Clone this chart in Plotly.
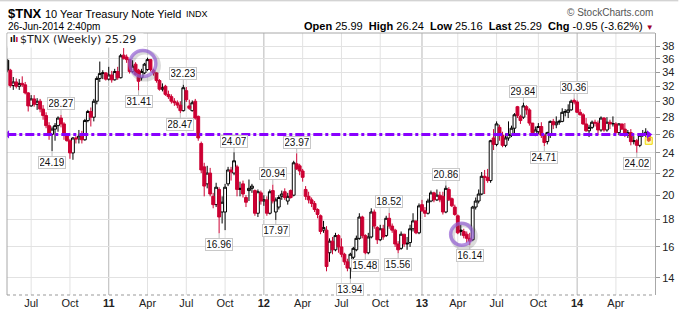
import math
import pandas as pd
import plotly.graph_objects as go

# ---------------- data (weekly $TNX) ----------------
opens = [35.8, 34.3, 32.1, 32.6, 32.0, 32.4, 32.2, 31.1, 29.4, 30.3,
         29.6, 30.0, 29.0, 28.2, 27.0, 26.0, 26.6, 27.0, 27.9, 27.2,
         25.9, 25.3, 24.0, 25.6, 25.5, 25.8, 25.4, 27.6, 28.7, 28.0,
         30.0, 33.1, 33.8, 33.9, 33.0, 33.6, 32.9, 34.1, 33.2, 36.6,
         36.3, 35.9, 34.1, 35.2, 34.3, 33.2, 33.9, 34.4, 35.9, 34.3,
         33.9, 32.8, 31.6, 32.0, 30.9, 30.6, 30.0, 29.8, 29.5, 28.8,
         31.4, 29.4, 28.8, 30.0, 28.1, 25.0, 22.6, 21.0, 22.0, 19.9,
         19.2, 20.5, 18.6, 18.6, 21.0, 22.3, 22.0, 22.6, 20.5, 21.0,
         19.8, 20.4, 20.6, 20.4, 18.5, 20.2, 19.5, 19.6, 18.5, 20.4,
         18.6, 19.0, 19.9, 20.3, 19.5, 20.4, 20.0, 22.9, 22.7, 22.2,
         20.5, 19.9, 19.6, 19.3, 18.8, 18.3, 17.2, 17.2, 15.6, 16.4,
         15.8, 16.8, 16.0, 15.5, 15.0, 14.6, 15.3, 15.8, 16.6, 18.2,
         16.8, 15.6, 16.7, 18.6, 17.4, 16.5, 17.3, 16.8, 18.1, 17.5,
         17.2, 16.2, 15.9, 16.9, 16.2, 16.3, 17.3, 17.9, 17.0, 19.2,
         18.7, 18.5, 19.5, 20.2, 19.6, 20.0, 19.9, 18.6, 20.5, 19.7,
         19.0, 18.3, 17.1, 17.1, 16.9, 16.6, 16.5, 19.0, 19.5, 20.1,
         21.7, 21.6, 21.3, 25.6, 24.9, 26.8, 25.9, 24.8, 25.6, 25.9,
         26.7, 29.3, 28.1, 28.0, 29.3, 28.9, 27.3, 26.1, 26.3, 26.9,
         25.9, 25.2, 26.0, 27.5, 27.1, 27.4, 27.5, 28.6, 28.6, 28.9,
         30.1, 29.9, 28.6, 28.3, 27.2, 26.4, 26.8, 27.4, 27.3, 26.5,
         27.9, 26.5, 27.4, 27.2, 27.2, 26.2, 27.2, 26.6, 25.9, 26.2,
         25.2, 25.3, 24.8, 25.9, 26.0, 25.99]
highs = [36.0, 34.5, 33.3, 33.1, 33.0, 33.4, 32.6, 31.2, 30.8, 30.8,
         30.4, 30.3, 29.5, 28.6, 27.4, 26.9, 27.3, 28.1, 28.27, 27.4,
         26.0, 25.5, 25.7, 25.8, 26.5, 26.4, 27.8, 28.9, 29.2, 30.3,
         33.4, 35.6, 34.3, 34.0, 34.8, 34.2, 34.5, 34.8, 36.8, 37.73,
         36.7, 36.0, 35.8, 35.5, 34.5, 34.5, 35.4, 36.2, 36.0, 34.5,
         34.0, 33.0, 32.4, 32.2, 31.4, 30.9, 30.4, 30.1, 30.0, 32.23,
         31.9, 30.2, 30.1, 30.3, 28.2, 25.2, 23.0, 22.7, 22.5, 20.2,
         21.1, 20.7, 19.9, 21.0, 22.6, 22.6, 24.07, 22.8, 21.2, 21.3,
         20.0, 21.4, 21.0, 20.5, 20.5, 20.4, 20.0, 19.9, 20.5, 20.94,
         19.8, 20.0, 20.4, 20.6, 20.2, 20.5, 23.2, 23.97, 22.9, 22.4,
         20.8, 20.3, 19.8, 19.5, 18.9, 18.4, 17.9, 17.5, 16.6, 16.7,
         17.0, 16.9, 16.6, 15.6, 15.2, 15.6, 16.0, 16.8, 18.5, 18.3,
         16.9, 17.0, 18.9, 18.8, 17.5, 17.6, 17.6, 18.3, 18.52, 17.7,
         17.3, 16.4, 17.1, 16.9, 16.7, 17.6, 18.5, 17.9, 19.3, 19.6,
         19.0, 19.7, 20.4, 20.3, 20.5, 20.3, 20.3, 20.86, 20.7, 19.8,
         19.2, 18.4, 17.6, 17.3, 17.1, 17.0, 19.1, 19.8, 20.5, 22.1,
         22.3, 22.4, 25.4, 26.6, 27.5, 27.1, 26.3, 26.1, 27.5, 27.0,
         28.5, 29.4, 28.3, 29.84, 29.5, 29.1, 27.3, 26.9, 27.3, 27.4,
         26.0, 26.3, 27.6, 27.8, 28.1, 27.7, 29.1, 29.0, 29.6, 30.2,
         30.36, 30.1, 29.0, 28.5, 27.9, 27.1, 27.6, 27.7, 27.6, 28.1,
         28.0, 28.0, 27.7, 28.1, 27.4, 27.3, 27.2, 27.3, 26.5, 26.6,
         25.8, 25.5, 26.1, 26.5, 26.7, 26.24]
lows = [34.0, 31.8, 31.5, 31.7, 31.5, 31.9, 30.9, 28.7, 29.3, 29.3,
        28.9, 28.6, 27.7, 26.7, 25.4, 24.19, 25.3, 26.3, 26.8, 25.4,
        25.2, 23.4, 23.3, 25.0, 25.0, 25.0, 25.3, 27.4, 26.9, 27.5,
        29.6, 32.6, 33.0, 32.8, 32.8, 32.5, 32.8, 32.9, 33.1, 35.9,
        35.4, 33.8, 33.9, 33.5, 31.41, 32.8, 33.7, 34.2, 34.1, 33.5,
        32.5, 31.4, 31.3, 30.7, 30.3, 29.7, 29.4, 29.1, 28.47, 28.7,
        29.9, 28.9, 28.7, 27.7, 25.3, 22.0, 19.9, 20.6, 19.9, 18.9,
        19.0, 16.96, 17.7, 17.2, 20.8, 21.3, 21.8, 19.9, 19.9, 19.8,
        19.0, 19.5, 20.2, 18.3, 18.2, 19.2, 19.1, 18.3, 18.4, 19.3,
        17.97, 18.8, 19.6, 19.6, 19.2, 19.7, 19.9, 22.3, 21.8, 21.2,
        19.6, 19.3, 19.0, 18.6, 18.1, 16.9, 17.0, 14.4, 15.0, 15.5,
        15.7, 15.6, 15.3, 14.8, 14.4, 13.94, 14.9, 15.7, 16.5, 16.6,
        15.48, 15.5, 16.6, 17.3, 16.2, 16.4, 16.5, 16.7, 17.3, 17.0,
        16.0, 15.56, 15.8, 16.0, 15.8, 16.0, 17.1, 16.9, 16.9, 18.6,
        18.2, 18.4, 19.4, 19.4, 19.5, 19.4, 18.4, 18.5, 19.5, 19.0,
        18.3, 16.9, 16.8, 16.6, 16.3, 16.14, 16.4, 18.8, 19.3, 20.0,
        20.1, 21.1, 21.1, 24.3, 24.7, 25.3, 24.6, 24.6, 25.3, 25.7,
        26.0, 27.9, 27.2, 27.8, 28.3, 27.0, 25.9, 25.8, 26.0, 25.6,
        24.71, 24.9, 25.6, 26.6, 26.7, 27.1, 27.4, 28.1, 27.9, 28.8,
        29.6, 28.5, 28.2, 27.1, 26.3, 25.7, 26.6, 26.9, 25.9, 26.3,
        26.3, 26.3, 26.6, 26.9, 26.1, 25.9, 26.5, 25.7, 25.6, 24.8,
        24.9, 24.02, 24.6, 25.7, 25.7, 25.16]
closes = [34.3, 32.1, 32.6, 32.0, 32.4, 32.2, 31.1, 29.4, 30.3, 29.6,
          30.0, 29.0, 28.2, 27.0, 26.0, 26.6, 27.0, 27.9, 27.2, 25.9,
          25.3, 24.0, 25.6, 25.5, 25.8, 25.4, 27.6, 28.7, 28.0, 30.0,
          33.1, 33.8, 33.9, 33.0, 33.6, 32.9, 34.1, 33.2, 36.5, 36.1,
          35.9, 34.1, 34.9, 33.7, 32.7, 34.1, 35.2, 35.9, 34.4, 33.9,
          32.8, 31.6, 31.8, 30.9, 30.6, 30.0, 29.8, 29.5, 28.8, 31.8,
          30.2, 29.1, 29.8, 27.9, 25.6, 22.3, 20.8, 22.0, 20.1, 19.2,
          20.7, 18.2, 19.4, 20.7, 22.3, 22.1, 23.2, 20.5, 20.6, 20.1,
          19.4, 20.6, 20.8, 18.5, 20.3, 19.5, 19.6, 18.5, 20.3, 19.5,
          19.6, 19.8, 20.1, 19.8, 19.9, 19.8, 23.0, 22.4, 22.2, 21.6,
          19.9, 19.6, 19.3, 18.8, 18.4, 17.1, 17.4, 14.7, 16.4, 15.8,
          16.8, 16.0, 15.5, 15.0, 14.6, 15.5, 15.9, 16.6, 18.2, 16.8,
          15.6, 16.7, 18.6, 17.5, 16.5, 17.3, 16.7, 18.1, 17.5, 17.2,
          16.2, 15.8, 16.9, 16.2, 16.25, 17.3, 17.9, 17.0, 19.1, 18.7,
          18.5, 19.5, 20.2, 19.6, 20.0, 19.6, 18.6, 20.6, 19.6, 19.1,
          18.4, 17.0, 17.2, 16.8, 16.6, 16.4, 19.0, 19.5, 20.1, 21.7,
          21.6, 21.3, 25.3, 24.9, 27.2, 25.9, 24.8, 25.6, 26.0, 26.7,
          28.3, 28.2, 27.6, 29.4, 28.9, 27.3, 26.2, 26.5, 26.9, 25.9,
          25.1, 26.2, 27.5, 27.1, 27.4, 27.5, 28.6, 28.7, 28.9, 30.0,
          29.9, 28.6, 28.3, 27.2, 26.4, 26.8, 27.4, 27.3, 26.5, 27.9,
          26.5, 27.4, 27.2, 27.25, 26.2, 27.2, 26.6, 25.9, 26.2, 25.2,
          25.3, 24.8, 25.9, 26.0, 26.24, 25.29]

first_week = "2010-05-10"
dates = pd.date_range(first_week, periods=len(closes), freq="W-MON")

tick_dates = ["2010-07-05", "2010-10-04", "2011-01-03", "2011-04-04", "2011-07-04",
              "2011-10-03", "2012-01-02", "2012-04-02", "2012-07-02", "2012-10-01",
              "2013-01-07", "2013-04-01", "2013-07-01", "2013-10-07", "2014-01-06",
              "2014-04-07"]
tick_labels = ["Jul", "Oct", "11", "Apr", "Jul", "Oct", "12", "Apr", "Jul", "Oct",
               "13", "Apr", "Jul", "Oct", "14", "Apr"]
year_labels = ["11", "12", "13", "14"]
y_ticks = [14, 16, 18, 20, 22, 24, 26, 28, 30, 32, 34, 36, 38]

label_idx = [18, 15, 44, 59, 58, 71, 76, 89, 90, 97, 115, 120, 128, 131,
             147, 155, 173, 180, 190, 211]
label_kind = ["high", "low", "low", "high", "low", "low", "high", "high",
              "low", "high", "low", "low", "high", "low", "high", "low", "high",
              "low", "high", "low"]

level_line = 26.0
circle_dates = ["2011-03-24", "2013-04-10"]
circle_values = [35.3, 16.9]

# ---------------- styling ----------------
RED = "#cc0033"
PURPLE = "#8800ff"
RING = "#9460d4"
AX_FONT = dict(family="Liberation Sans, Arial, sans-serif", size=11, color="#222")

n = len(closes)
up_idx = [i for i in range(n) if i == 0 or closes[i] >= closes[i - 1]]
dn_idx = [i for i in range(n) if not (i == 0 or closes[i] >= closes[i - 1])]


def candle(idx, color):
    return go.Candlestick(
        x=[dates[i] for i in idx],
        open=[opens[i] for i in idx], high=[highs[i] for i in idx],
        low=[lows[i] for i in idx], close=[closes[i] for i in idx],
        increasing=dict(line=dict(color=color, width=1), fillcolor="white"),
        decreasing=dict(line=dict(color=color, width=1), fillcolor=color),
        whiskerwidth=0, showlegend=False, hoverinfo="skip",
    )


fig = go.Figure()
# highlight behind the last bar
fig.add_trace(go.Scatter(x=[dates[-1]], y=[closes[-1]], mode="markers",
                         marker=dict(symbol="square", size=7, color="rgba(255,240,60,0.35)",
                                     line=dict(color="#f0d800", width=1)),
                         showlegend=False, hoverinfo="skip"))
fig.add_trace(candle(up_idx, "#000000"))
fig.add_trace(candle(dn_idx, RED))

# horizontal level line with end arrows
fig.add_trace(go.Scatter(
    x=[dates[0], dates[-1]], y=[level_line, level_line], mode="lines+markers",
    line=dict(color=PURPLE, width=3, dash="dashdot"),
    marker=dict(symbol=["triangle-left", "triangle-right"], size=7, color=PURPLE),
    showlegend=False, hoverinfo="skip"))

# circles (soft shadow + ring)
circ_ts = pd.to_datetime(circle_dates)
fig.add_trace(go.Scatter(
    x=circ_ts + pd.Timedelta(days=5), y=[v * 0.991 for v in circle_values], mode="markers",
    marker=dict(symbol="circle-open", size=[27, 23], color="rgba(70,70,70,0.28)",
                line=dict(width=5, color="rgba(70,70,70,0.28)")),
    showlegend=False, hoverinfo="skip"))
fig.add_trace(go.Scatter(
    x=circ_ts, y=circle_values, mode="markers",
    marker=dict(symbol="circle-open", size=[26, 22], color=RING,
                line=dict(width=3.5, color=RING)),
    showlegend=False, hoverinfo="skip"))

shapes = []
# vertical gridlines (year lines darker)
for d, t in zip(tick_dates, tick_labels):
    shapes.append(dict(type="line", xref="x", yref="paper", x0=d, x1=d, y0=0, y1=1,
                       line=dict(color="#b8b8b8" if t in year_labels else "#e2e2e2", width=1),
                       layer="below"))
# frame
shapes += [
    dict(type="line", xref="paper", yref="paper", x0=0, x1=1, y0=1, y1=1,
         line=dict(color="#a8a8a8", width=1)),
    dict(type="line", xref="paper", yref="paper", x0=0, x1=0, y0=0, y1=1,
         line=dict(color="#a8a8a8", width=1)),
    dict(type="line", xref="paper", yref="paper", x0=0, x1=1, y0=0, y1=0,
         line=dict(color="#999999", width=1, dash="dot")),
    dict(type="line", xref="paper", yref="paper", x0=-0.011, x1=1.036, y0=1.123, y1=1.123,
         line=dict(color="#c4c4c4", width=1)),
]

ann = []
for i, kind in zip(label_idx, label_kind):
    v = highs[i] if kind == "high" else lows[i]
    ann.append(dict(x=dates[i], y=math.log10(v), xref="x", yref="y", text=f"{v:.2f}",
                    showarrow=True, arrowhead=0, arrowwidth=1, arrowcolor="#bdbdbd",
                    ax=0, ay=-11 if kind == "high" else 11, standoff=0,
                    width=24, height=9, borderpad=1,
                    bgcolor="white", bordercolor="#c8c8c8", borderwidth=1,
                    font=dict(family="Liberation Sans, Arial, sans-serif", size=10, color="#111")))

PW, PH, L = 651.0, 264.0, 7.0


def px(xp):
    return (xp - L) / PW


def py(yp):
    return (297.0 - yp) / PH


hdr = "Liberation Sans, Arial, sans-serif"
chg = closes[-1] - closes[-2]
pct = chg / closes[-2] * 100
ann += [
    dict(xref="paper", yref="paper", x=px(6), y=py(13), xanchor="left", yanchor="middle",
         text="<b>$TNX</b>", showarrow=False, font=dict(family=hdr, size=13, color="#000")),
    dict(xref="paper", yref="paper", x=px(43), y=py(13.5), xanchor="left", yanchor="middle",
         text="10 Year Treasury Note Yield", showarrow=False, font=dict(family=hdr, size=11, color="#000")),
    dict(xref="paper", yref="paper", x=px(185), y=py(14), xanchor="left", yanchor="middle",
         text="INDX", showarrow=False, font=dict(family=hdr, size=9, color="#000")),
    dict(xref="paper", yref="paper", x=px(6), y=py(26), xanchor="left", yanchor="middle",
         text="26-Jun-2014 2:40pm", showarrow=False, font=dict(family=hdr, size=10, color="#000")),
    dict(xref="paper", yref="paper", x=px(658), y=py(12.5), xanchor="right", yanchor="middle",
         text="© StockCharts.com", showarrow=False, font=dict(family=hdr, size=10, color="#555")),
    dict(xref="paper", yref="paper", x=px(659), y=py(26), xanchor="right", yanchor="middle",
         text=(f"<b>Open</b> {opens[-1]:.2f}  <b>High</b> {highs[-1]:.2f}  <b>Low</b> {lows[-1]:.2f}"
               f"  <b>Last</b> {closes[-1]:.2f}  <b>Chg</b> {chg:.2f} ({pct:.2f}%) "
               f"<span style='color:#a0002a;font-size:8px'>▼</span>"),
         showarrow=False, font=dict(family=hdr, size=11, color="#000")),
    # legend
    dict(xref="paper", yref="paper", x=0.0, y=1.0, xanchor="left", yanchor="top",
         text=" ", showarrow=False, width=133, height=11, bgcolor="white", borderpad=1),
    dict(xref="paper", yref="paper", x=px(8), y=py(39.5), xanchor="left", yanchor="middle",
         text="<b>ıl</b><span style='color:#cc0033'><b>ı</b></span>", showarrow=False,
         font=dict(family="DejaVu Sans", size=8, color="#000")),
    dict(xref="paper", yref="paper", x=px(18), y=py(39.5), xanchor="left", yanchor="middle",
         text=f"$TNX (Weekly) {closes[-1]:.2f}", showarrow=False,
         font=dict(family="DejaVu Sans, Verdana, sans-serif", size=11, color="#222")),
]

fig.update_layout(
    width=681, height=316,
    margin=dict(l=7, r=23, t=33, b=19, pad=0),
    paper_bgcolor="white", plot_bgcolor="white",
    showlegend=False, boxgap=0.05, boxgroupgap=0.0,
    shapes=shapes, annotations=ann,
    xaxis=dict(type="date", range=["2010-05-09 07:00", "2014-07-07 17:00"],
               tickvals=tick_dates,
               ticktext=[f"<b>{t}</b>" if t in year_labels else t for t in tick_labels],
               tickfont=AX_FONT, showgrid=False,
               ticks="", showline=False, zeroline=False, rangeslider=dict(visible=False),
               fixedrange=True),
    yaxis=dict(type="log", range=[math.log10(13.0), math.log10(40.27)], side="right",
               tickvals=y_ticks, ticktext=[str(v) for v in y_ticks], tickfont=AX_FONT,
               showgrid=True, gridcolor="#e2e2e2", gridwidth=1, ticks="outside", ticklen=4,
               tickcolor="#999", showline=True, linecolor="#a8a8a8", linewidth=1,
               zeroline=False, fixedrange=True),
)

fig.write_html("out.html")
